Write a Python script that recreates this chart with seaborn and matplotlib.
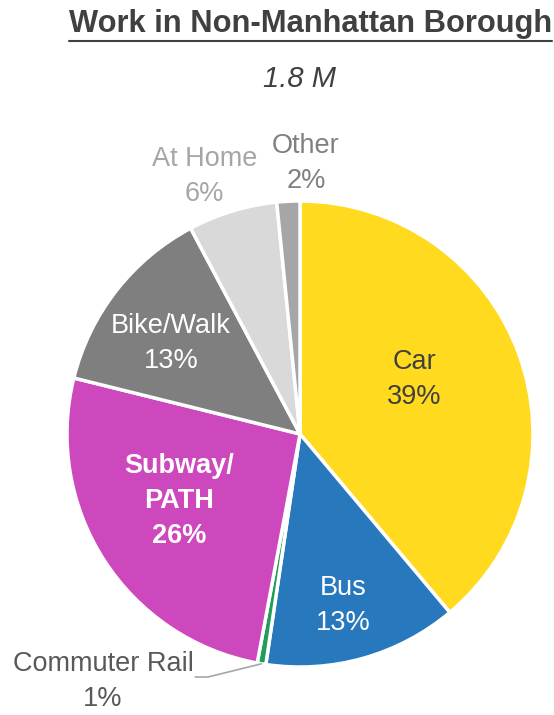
import matplotlib
matplotlib.use("Agg")
import matplotlib.pyplot as plt
import numpy as np
import seaborn as sns

# Mode share, work in non-Manhattan borough (share of 1.8 M commuters)
modes = ['Car', 'Bus', 'Commuter Rail', 'Subway/\nPATH', 'Bike/Walk', 'At Home', 'Other']
shares = [39.0, 13.5, 0.6, 26.0, 13.4, 6.2, 1.6]
share_labels = ['39%', '13%', '1%', '26%', '13%', '6%', '2%']
colors = ['#FFDA1F', '#2878BE', '#1E9E5A', '#CC48BC', '#7F7F7F', '#D9D9D9', '#A6A6A6']

title = 'Work in Non-Manhattan Borough'
subtitle = '1.8 M'


def main():
    sns.set_theme(style="white")
    plt.rcParams['font.family'] = ['Liberation Sans Narrow', 'Liberation Sans', 'DejaVu Sans']

    fig = plt.figure(figsize=(5.54, 7.15), dpi=100)
    ax = fig.add_axes([67 / 554, 48 / 715, 466 / 554, 466 / 715])

    wedges, _ = ax.pie(shares, colors=colors, startangle=90, counterclock=False,
                       radius=1, wedgeprops=dict(edgecolor='white', linewidth=2.5))
    ax.set_xlim(-1, 1)
    ax.set_ylim(-1, 1)
    ax.set_aspect('equal')
    ax.axis('off')

    # label placement / styling per slice
    label_pos = [(0.49, 0.236), (0.185, -0.738), (-0.845, -1.064), (-0.52, -0.288),
                 (-0.554, 0.39), (-0.41, 1.107), (0.026, 1.163)]
    text_colors = ['#404040', 'white', '#595959', 'white', 'white', '#A6A6A6', '#808080']
    weights = ['normal', 'normal', 'normal', 'bold', 'normal', 'normal', 'normal']

    for mode, lab, pos, tc, fw in zip(modes, share_labels, label_pos, text_colors, weights):
        ax.text(pos[0], pos[1], f'{mode}\n{lab}', ha='center', va='center',
                color=tc, fontsize=19.5, fontweight=fw, linespacing=1.45)

    # leader line for the thin Commuter Rail slice
    w = wedges[2]
    ang = np.deg2rad((w.theta1 + w.theta2) / 2)
    ex, ey = np.cos(ang), np.sin(ang)
    ax.plot([-0.45, -0.395, ex], [-1.043, -1.043, ey], color='#A6A6A6', lw=1.2,
            clip_on=False)

    t = fig.text(0.561, 0.967, title, ha='center', va='center', fontsize=22.2,
                 fontweight='bold', color='#404040')
    fig.text(0.5415, 0.889, subtitle, ha='center', va='center', fontsize=21,
             style='italic', color='#404040')

    # underline the title
    fig.canvas.draw()
    bb = t.get_window_extent().transformed(fig.transFigure.inverted())
    fig.add_artist(plt.Line2D([bb.x0, bb.x1], [bb.y0 - 0.003, bb.y0 - 0.003],
                              transform=fig.transFigure, color='#404040', lw=1.5))

    fig.savefig('out.png', dpi=100)


if __name__ == "__main__":
    main()
